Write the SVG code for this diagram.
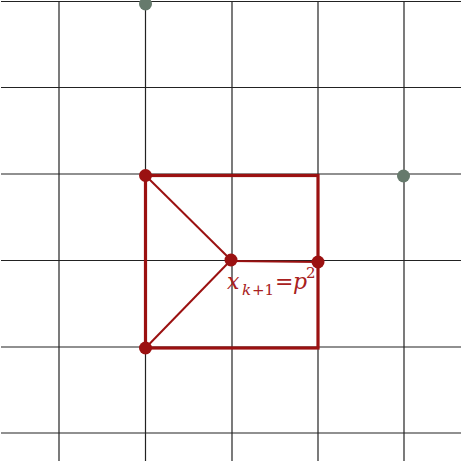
<svg xmlns="http://www.w3.org/2000/svg" width="463" height="462" viewBox="0 0 463 462">
<style>
.grid line{stroke:#222;stroke-width:1.2}
.sq{fill:none;stroke:#9b1111;stroke-width:3.2}
.thin{stroke:#9b1111;stroke-width:2}
.rd{fill:#9b1111}
.gd{fill:#667a6c}
.lbl{font-family:"DejaVu Serif","Liberation Serif",serif;fill:#a82020}
.it{font-style:italic}
</style>
<rect width="463" height="462" fill="#fff"/>
<g class="grid">
<line x1="59" y1="2" x2="59" y2="461"/>
<line x1="145.5" y1="2" x2="145.5" y2="461"/>
<line x1="232" y1="2" x2="232" y2="461"/>
<line x1="318" y1="2" x2="318" y2="461"/>
<line x1="404" y1="2" x2="404" y2="461"/>
<line x1="1" y1="1.5" x2="461" y2="1.5"/>
<line x1="1" y1="87.5" x2="461" y2="87.5"/>
<line x1="1" y1="174" x2="461" y2="174"/>
<line x1="1" y1="260.5" x2="461" y2="260.5"/>
<line x1="1" y1="347" x2="461" y2="347"/>
<line x1="1" y1="433" x2="461" y2="433"/>
</g>
<g id="connectors">
<rect class="sq" x="145.5" y="175.5" width="172.5" height="172.5"/>
<line class="thin" x1="145.5" y1="175.5" x2="231" y2="260"/>
<line class="thin" x1="145.5" y1="348" x2="231" y2="260"/>
<line class="thin" x1="231" y1="261" x2="318" y2="262"/>
</g>
<g id="g1"><circle class="gd" cx="145.5" cy="4" r="6.5"/></g>
<g id="g2"><circle class="gd" cx="403.5" cy="176" r="6.5"/></g>
<g id="a"><circle class="rd" cx="145.5" cy="175.5" r="6.5"/></g>
<g id="b"><circle class="rd" cx="145.5" cy="348" r="6.5"/></g>
<g id="p"><circle class="rd" cx="231" cy="260" r="6.5"/></g>
<g id="q"><circle class="rd" cx="318" cy="262" r="6.5"/></g>
<g id="label">
<text class="lbl" font-size="22"><tspan class="it" x="227" y="289">x</tspan><tspan class="it" x="242" y="295" font-size="15">k</tspan><tspan x="252" y="295" font-size="15">+1</tspan><tspan x="275" y="289">=</tspan><tspan class="it" x="293" y="289">p</tspan><tspan x="306" y="278" font-size="15">2</tspan></text>
</g>
</svg>
